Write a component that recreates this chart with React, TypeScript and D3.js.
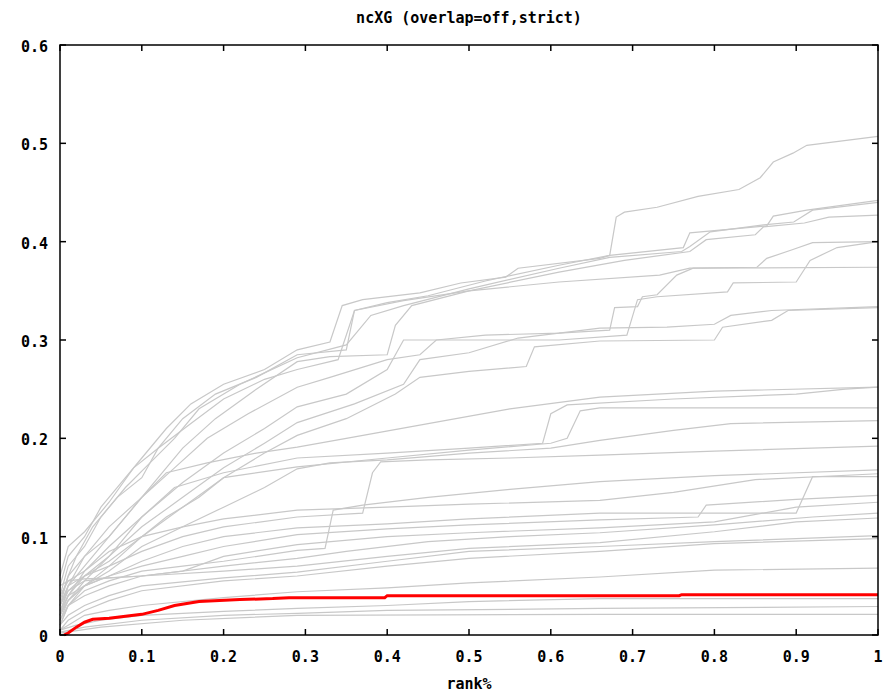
import React from "react";
import * as d3 from "d3";

type P = [number, number];

const xTicks = [0, 0.1, 0.2, 0.3, 0.4, 0.5, 0.6, 0.7, 0.8, 0.9, 1];
const xTickLabels = ["0", "0.1", "0.2", "0.3", "0.4", "0.5", "0.6", "0.7", "0.8", "0.9", "1"];
const yTicks = [0, 0.1, 0.2, 0.3, 0.4, 0.5, 0.6];
const yTickLabels = ["0", "0.1", "0.2", "0.3", "0.4", "0.5", "0.6"];
const title = "ncXG (overlap=off,strict)";
const xLabel = "rank%";

const sA: P[] = [[0,0.05],[0.01,0.08],[0.03,0.1],[0.05,0.13],[0.08,0.16],[0.1,0.18],[0.13,0.21],[0.16,0.235],[0.2,0.255],[0.25,0.27],[0.29,0.29],[0.33,0.298],[0.345,0.335],[0.37,0.341],[0.44,0.348],[0.49,0.358],[0.545,0.364],[0.56,0.373],[0.66,0.383],[0.672,0.386],[0.68,0.425],[0.69,0.43],[0.73,0.435],[0.78,0.446],[0.83,0.453],[0.856,0.465],[0.872,0.481],[0.896,0.49],[0.913,0.498],[1,0.507]];
const sB: P[] = [[0,0.03],[0.01,0.06],[0.02,0.08],[0.04,0.11],[0.07,0.14],[0.1,0.16],[0.12,0.19],[0.15,0.22],[0.19,0.245],[0.24,0.262],[0.29,0.285],[0.35,0.29],[0.36,0.33],[0.4,0.338],[0.45,0.345],[0.52,0.36],[0.61,0.376],[0.672,0.386],[0.762,0.394],[0.77,0.409],[0.864,0.416],[0.872,0.426],[0.913,0.432],[1,0.442]];
const sC: P[] = [[0,0.04],[0.01,0.07],[0.03,0.09],[0.05,0.12],[0.08,0.15],[0.11,0.175],[0.14,0.2],[0.17,0.23],[0.22,0.255],[0.29,0.282],[0.35,0.295],[0.38,0.325],[0.42,0.335],[0.5,0.352],[0.61,0.373],[0.672,0.384],[0.76,0.39],[0.77,0.395],[0.795,0.41],[0.86,0.417],[0.897,0.42],[0.92,0.432],[1,0.44]];
const sD: P[] = [[0,0.02],[0.01,0.05],[0.03,0.08],[0.06,0.1],[0.09,0.13],[0.12,0.16],[0.15,0.19],[0.19,0.22],[0.24,0.25],[0.29,0.278],[0.33,0.283],[0.4,0.285],[0.41,0.315],[0.43,0.335],[0.5,0.35],[0.61,0.369],[0.69,0.381],[0.77,0.39],[0.79,0.402],[0.85,0.407],[0.86,0.415],[0.91,0.419],[0.94,0.425],[1,0.427]];
const sE: P[] = [[0,0.06],[0.01,0.09],[0.03,0.105],[0.06,0.135],[0.09,0.17],[0.12,0.19],[0.16,0.215],[0.2,0.24],[0.25,0.26],[0.29,0.27],[0.34,0.28],[0.36,0.33],[0.42,0.34],[0.5,0.35],[0.61,0.359],[0.733,0.366],[0.77,0.373],[1,0.374]];
const sF: P[] = [[0,0.03],[0.01,0.05],[0.03,0.07],[0.06,0.1],[0.1,0.14],[0.14,0.17],[0.18,0.2],[0.23,0.225],[0.29,0.252],[0.33,0.262],[0.4,0.28],[0.44,0.285],[0.46,0.3],[0.52,0.305],[0.61,0.307],[0.672,0.31],[0.678,0.333],[0.706,0.334],[0.712,0.344],[0.73,0.346],[0.754,0.366],[0.774,0.373],[0.852,0.374],[0.864,0.383],[0.896,0.392],[0.92,0.399],[1,0.4]];
const sG: P[] = [[0,0.02],[0.01,0.04],[0.03,0.065],[0.06,0.09],[0.1,0.12],[0.15,0.155],[0.2,0.185],[0.25,0.21],[0.29,0.232],[0.35,0.245],[0.4,0.27],[0.42,0.3],[0.5,0.3],[0.61,0.3],[0.693,0.305],[0.706,0.341],[0.73,0.344],[0.816,0.349],[0.823,0.358],[0.9,0.359],[0.917,0.381],[0.95,0.394],[1,0.4]];
const sH: P[] = [[0,0.015],[0.01,0.035],[0.03,0.055],[0.06,0.08],[0.1,0.11],[0.15,0.14],[0.2,0.17],[0.25,0.195],[0.29,0.216],[0.36,0.235],[0.42,0.255],[0.44,0.28],[0.5,0.287],[0.56,0.302],[0.66,0.312],[0.742,0.313],[0.8,0.316],[0.82,0.325],[0.87,0.33],[1,0.334]];
const sI: P[] = [[0,0.01],[0.01,0.03],[0.03,0.05],[0.06,0.07],[0.1,0.1],[0.15,0.13],[0.2,0.16],[0.25,0.185],[0.29,0.203],[0.35,0.22],[0.41,0.245],[0.44,0.262],[0.5,0.268],[0.57,0.273],[0.58,0.293],[0.66,0.299],[0.8,0.3],[0.81,0.313],[0.87,0.32],[0.89,0.33],[1,0.333]];
const sJ: P[] = [[0,0.035],[0.01,0.06],[0.03,0.08],[0.06,0.11],[0.1,0.14],[0.13,0.165],[0.18,0.175],[0.24,0.185],[0.29,0.191],[0.35,0.2],[0.45,0.215],[0.55,0.23],[0.66,0.242],[0.8,0.248],[1,0.252]];
const sK: P[] = [[0,0.02],[0.01,0.04],[0.03,0.06],[0.06,0.08],[0.1,0.12],[0.14,0.15],[0.2,0.165],[0.29,0.18],[0.4,0.185],[0.5,0.19],[0.59,0.195],[0.6,0.225],[0.62,0.234],[0.75,0.24],[0.9,0.245],[0.96,0.25],[1,0.252]];
const sL: P[] = [[0,0.025],[0.01,0.045],[0.03,0.06],[0.06,0.075],[0.1,0.1],[0.13,0.12],[0.17,0.14],[0.2,0.16],[0.29,0.171],[0.4,0.18],[0.5,0.188],[0.6,0.195],[0.62,0.2],[0.636,0.228],[0.66,0.231],[1,0.231]];
const sM: P[] = [[0,0.02],[0.01,0.035],[0.03,0.05],[0.06,0.065],[0.1,0.09],[0.15,0.11],[0.2,0.13],[0.25,0.15],[0.29,0.169],[0.33,0.175],[0.4,0.178],[0.5,0.185],[0.6,0.19],[0.66,0.198],[0.75,0.208],[0.82,0.215],[1,0.218]];
const sN: P[] = [[0,0.01],[0.01,0.03],[0.03,0.045],[0.06,0.055],[0.1,0.065],[0.15,0.07],[0.2,0.075],[0.29,0.086],[0.324,0.088],[0.334,0.127],[0.37,0.132],[0.45,0.14],[0.55,0.148],[0.66,0.156],[0.8,0.162],[1,0.168]];
const sO: P[] = [[0,0.03],[0.01,0.05],[0.03,0.06],[0.06,0.07],[0.1,0.085],[0.15,0.1],[0.2,0.11],[0.29,0.12],[0.37,0.124],[0.382,0.165],[0.392,0.176],[0.45,0.178],[0.55,0.18],[0.66,0.183],[0.8,0.187],[1,0.192]];
const sP: P[] = [[0,0.04],[0.01,0.055],[0.03,0.065],[0.06,0.085],[0.1,0.1],[0.15,0.11],[0.2,0.118],[0.29,0.127],[0.4,0.13],[0.5,0.133],[0.66,0.137],[0.75,0.145],[0.85,0.158],[1,0.164]];
const sQ: P[] = [[0,0.025],[0.01,0.04],[0.03,0.05],[0.06,0.06],[0.1,0.075],[0.15,0.09],[0.2,0.1],[0.29,0.109],[0.4,0.113],[0.5,0.118],[0.66,0.124],[0.9,0.124],[0.92,0.161],[1,0.161]];
const sR: P[] = [[0,0.02],[0.01,0.035],[0.03,0.05],[0.06,0.06],[0.1,0.07],[0.15,0.08],[0.2,0.09],[0.29,0.102],[0.4,0.108],[0.5,0.112],[0.66,0.117],[0.78,0.12],[0.79,0.132],[0.9,0.138],[1,0.142]];
const sS: P[] = [[0,0.03],[0.01,0.045],[0.03,0.055],[0.06,0.058],[0.1,0.06],[0.15,0.065],[0.2,0.08],[0.29,0.092],[0.4,0.1],[0.5,0.104],[0.66,0.109],[0.8,0.115],[0.9,0.13],[1,0.135]];
const sT: P[] = [[0,0.015],[0.01,0.03],[0.03,0.04],[0.06,0.05],[0.1,0.06],[0.2,0.07],[0.29,0.078],[0.35,0.085],[0.45,0.095],[0.55,0.1],[0.66,0.104],[0.8,0.112],[0.92,0.12],[1,0.124]];
const sU: P[] = [[0,0.05],[0.01,0.055],[0.03,0.057],[0.06,0.058],[0.1,0.06],[0.2,0.065],[0.29,0.07],[0.4,0.08],[0.5,0.088],[0.66,0.094],[0.8,0.105],[0.9,0.115],[1,0.119]];
const sV: P[] = [[0,0.01],[0.01,0.02],[0.03,0.03],[0.06,0.04],[0.1,0.05],[0.2,0.058],[0.29,0.064],[0.4,0.075],[0.5,0.085],[0.66,0.09],[0.8,0.095],[1,0.101]];
const sW: P[] = [[0,0.005],[0.01,0.015],[0.03,0.025],[0.06,0.035],[0.1,0.045],[0.2,0.055],[0.29,0.06],[0.4,0.07],[0.5,0.078],[0.66,0.085],[0.8,0.093],[1,0.098]];
const sX: P[] = [[0,0.005],[0.01,0.01],[0.03,0.02],[0.06,0.025],[0.1,0.03],[0.2,0.038],[0.29,0.044],[0.4,0.048],[0.5,0.053],[0.66,0.059],[0.8,0.066],[1,0.068]];
const sY: P[] = [[0,0.005],[0.02,0.01],[0.05,0.015],[0.1,0.02],[0.2,0.024],[0.29,0.027],[0.4,0.03],[0.5,0.034],[0.66,0.037],[1,0.037]];
const sZ: P[] = [[0,0.003],[0.03,0.008],[0.1,0.015],[0.2,0.02],[0.29,0.022],[0.4,0.025],[0.66,0.027],[1,0.029]];
const sAA: P[] = [[0,0.002],[0.05,0.008],[0.15,0.015],[0.29,0.02],[0.66,0.021],[1,0.021]];

const redSeries: P[] = [[0.005,0],[0.01,0.002],[0.02,0.008],[0.03,0.013],[0.04,0.016],[0.06,0.017],[0.08,0.019],[0.1,0.021],[0.12,0.025],[0.14,0.03],[0.17,0.034],[0.22,0.036],[0.26,0.037],[0.28,0.038],[0.397,0.038],[0.4,0.04],[0.757,0.04],[0.76,0.041],[1,0.041]];

const graySeries: P[][] = [sA, sB, sC, sD, sE, sF, sG, sH, sI, sJ, sK, sL, sM, sN, sO, sP, sQ, sR, sS, sT, sU, sV, sW, sX, sY, sZ, sAA];

const W = 885;
const H = 694;
const left = 60, right = 878, top = 45, bottom = 635;

export default function App() {
  const x = d3.scaleLinear().domain([0, 1]).range([left, right]);
  const y = d3.scaleLinear().domain([0, 0.6]).range([bottom, top]);
  const line = d3.line<P>().x(d => x(d[0])).y(d => y(d[1]));
  const font = "'DejaVu Sans Mono', monospace";
  const tl = 6;
  return (
    <svg width={W} height={H} style={{ position: "absolute", left: 0, top: 0, background: "#fff" }}>
      <rect x={0} y={0} width={W} height={H} fill="#fff" />
      <text x={(left + right) / 2} y={23} textAnchor="middle" fontFamily={font} fontWeight="bold" fontSize={15}>{title}</text>
      {graySeries.map((s, i) => (
        <path key={i} d={line(s) || ""} fill="none" stroke="#c8c8c8" strokeWidth={1.2} />
      ))}
      <path d={line(redSeries) || ""} fill="none" stroke="#ff0000" strokeWidth={3} />
      <rect x={left} y={top} width={right - left} height={bottom - top} fill="none" stroke="#000" strokeWidth={1.5} />
      {xTicks.map((t, i) => (
        <g key={"x" + i}>
          <line x1={x(t)} x2={x(t)} y1={bottom} y2={bottom - tl} stroke="#000" strokeWidth={1.5} />
          <line x1={x(t)} x2={x(t)} y1={top} y2={top + tl} stroke="#000" strokeWidth={1.5} />
          <text x={x(t)} y={662} textAnchor="middle" fontFamily={font} fontWeight="bold" fontSize={15}>{xTickLabels[i]}</text>
        </g>
      ))}
      {yTicks.map((t, i) => (
        <g key={"y" + i}>
          <line x1={left} x2={left + tl} y1={y(t)} y2={y(t)} stroke="#000" strokeWidth={1.5} />
          <line x1={right} x2={right - tl} y1={y(t)} y2={y(t)} stroke="#000" strokeWidth={1.5} />
          <text x={48} y={y(t) + 7} textAnchor="end" fontFamily={font} fontWeight="bold" fontSize={15}>{yTickLabels[i]}</text>
        </g>
      ))}
      <text x={(left + right) / 2} y={689} textAnchor="middle" fontFamily={font} fontWeight="bold" fontSize={15}>{xLabel}</text>
    </svg>
  );
}
